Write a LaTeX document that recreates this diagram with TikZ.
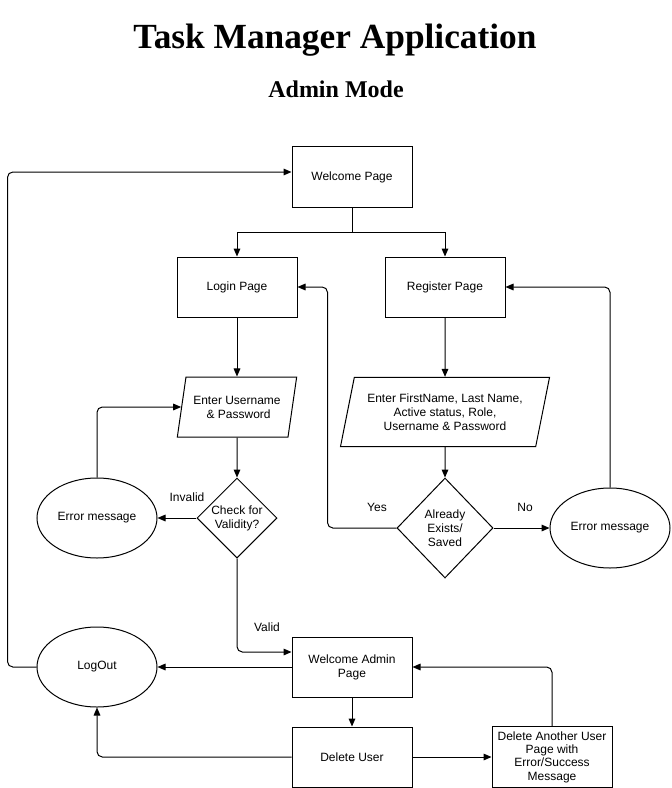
\documentclass[tikz,border=0pt]{standalone}
\usepackage{fontspec}
\setmainfont{Liberation Sans}
\newfontfamily\titlefont{Liberation Serif}
\usetikzlibrary{arrows.meta, shapes.geometric, calc}

\begin{document}
\begin{tikzpicture}[x=0.75pt, y=-0.75pt, line width=0.75pt,
    font=\fontsize{9}{10.5}\selectfont,
    arr/.style={-{Triangle[length=6pt,width=5pt]}, rounded corners=4pt},
    pagebox/.style={draw, minimum width=90pt, minimum height=45pt, align=center},
    inputbox/.style={draw, trapezium, trapezium left angle=73, trapezium right angle=107,
        trapezium stretches=true, minimum height=45pt, align=center, inner sep=1pt},
    decision/.style={draw, diamond, inner sep=0pt, align=center},
    message/.style={draw, ellipse, inner sep=0pt, minimum width=90pt, minimum height=60pt}]
    \useasboundingbox (0,0) rectangle (671,788);

    % titles
    \node (title) at (335,40) {\titlefont\bfseries\fontsize{26.5}{30}\selectfont Task Manager Application};
    \node (subtitle) at (336,89) {\titlefont\bfseries\fontsize{18}{22}\selectfont Admin Mode};

    % pages
    \node[pagebox] (welcome) at (352,177) {Welcome Page};
    \node[pagebox] (login) at (237,287) {Login Page};
    \node[pagebox] (register) at (445,287) {Register Page};
    \node[pagebox] (admin) at (352,667) {Welcome Admin\\Page};
    \node[pagebox] (deluser) at (352,757) {Delete User};
    \node[pagebox, font=\fontsize{9}{10}\selectfont] (another) at (552,757)
        {Delete Another User\\Page with\\Error/Success\\Message};

    % inputs and checks
    \node[inputbox, minimum width=90pt] (enteruser) at (237,407) {Enter Username\\\ \& Password};
    \node[inputbox, minimum width=157pt, minimum height=52pt] (enterall) at (445,412)
        {Enter FirstName, Last Name,\\Active status, Role,\\Username \& Password};
    \node[decision, minimum width=60pt, minimum height=60pt] (check) at (237,518) {Check for\\Validity?};
    \node[decision, minimum width=72pt, minimum height=75pt] (exists) at (445,528) {Already\\Exists/\\Saved};
    \node[message] (errleft) at (97,518) {Error message};
    \node[message] (errright) at (610,528) {Error message};
    \node[message] (logout) at (97,667) {LogOut};

    % connectors
    \draw[arr, rounded corners=0pt] (welcome.south) -- ++(0,25) -| (login.north);
    \draw[arr, rounded corners=0pt] (welcome.south) -- ++(0,25) -| (register.north);
    \draw[arr] (login) -- (enteruser);
    \draw[arr] (enteruser) -- (check);
    \draw[arr] (check) -- (errleft);
    \draw[arr] (errleft.north) |- (enteruser);
    \draw[arr] (check.south) |- ($(admin.west)+(0,-15)$);
    \draw[arr] (register) -- (enterall);
    \draw[arr] (enterall) -- (exists);
    \draw[arr] (exists.west) -- ++(-69,0) |- (login.east);
    \draw[arr] (exists) -- (errright);
    \draw[arr] (errright.north) |- (register.east);
    \draw[arr] (admin) -- (logout);
    \draw[arr] (logout.west) -- ++(-29,0) |- ($(welcome.west)+(0,-5)$);
    \draw[arr] (admin) -- (deluser);
    \draw[arr] (deluser.west) -| (logout.south);
    \draw[arr] (deluser) -- (another);
    \draw[arr] (another.north) |- (admin.east);

    % branch labels
    \node (invalid) at (187,497) {Invalid};
    \node (valid) at (267,627) {Valid};
    \node (yes) at (377,507) {Yes};
    \node (no) at (525,507) {No};
\end{tikzpicture}
\end{document}
